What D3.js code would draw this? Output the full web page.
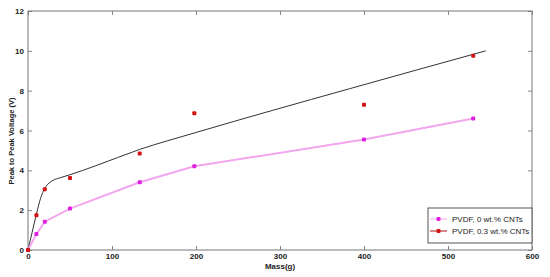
<html>
<head>
    <script src="https://d3js.org/d3.v7.min.js"></script>
</head>
<style>
    body { margin: 0; background: white; }
    .chart { font-family: "Liberation Sans", Arial, sans-serif; }
    .tick text { font-weight: bold; font-size: 8px; fill: #222; }
    .frame { fill: none; stroke: #777; stroke-width: 1px; }
</style>
<body>
    <svg id="chart" class="chart" width="550" height="277"></svg>
    <script>
        // measured data (mass in g, peak-to-peak voltage in V)
        const massPure = [0, 10, 20, 50, 133, 198, 400, 530];
        const voltPure = [0, 0.8, 1.42, 2.08, 3.4, 4.2, 5.55, 6.6];
        const massCnt = [0, 10, 20, 50, 133, 198, 400, 530];
        const voltCnt = [0, 1.75, 3.05, 3.62, 4.84, 6.87, 7.29, 9.75];
        // fitted curve for the CNT sample
        const fitMass = [0, 5, 10, 15, 20, 25, 30, 40, 50, 80, 133, 200, 383, 545];
        const fitVolt = [0, 0.9, 1.8, 2.6, 3.1, 3.36, 3.5, 3.65, 3.78, 4.22, 5.05, 5.9, 8.1, 10.0];
        const xTicks = [0, 100, 200, 300, 400, 500, 600];
        const yTicks = [0, 2, 4, 6, 8, 10, 12];
        const seriesNames = ["PVDF, 0 wt.% CNTs", "PVDF, 0.3 wt.% CNTs"];

        const svg = d3.select("svg#chart");
        const margin = { top: 11, right: 18, bottom: 27, left: 28 };
        const W = 550, H = 277;

        const x = d3.scaleLinear().domain([0, 600]).range([margin.left, W - margin.right]);
        const y = d3.scaleLinear().domain([0, 12]).range([H - margin.bottom, margin.top]);

        const pure = massPure.map((m, i) => ({ m: m, v: voltPure[i] }));
        const cnt = massCnt.map((m, i) => ({ m: m, v: voltCnt[i] }));
        const fit = fitMass.map((m, i) => ({ m: m, v: fitVolt[i] }));

        // axes, ticks pointing inward like matlab
        svg.append("g")
            .attr("transform", "translate(0," + y(0) + ")")
            .call(d3.axisBottom(x).tickValues(xTicks).tickSize(-4).tickPadding(3))
            .call(g => g.select(".domain").remove());
        svg.append("g")
            .attr("transform", "translate(" + x(0) + ",0)")
            .call(d3.axisLeft(y).tickValues(yTicks).tickSize(-4).tickPadding(4))
            .call(g => g.select(".domain").remove());
        svg.append("g")
            .attr("transform", "translate(0," + y(12) + ")")
            .call(d3.axisTop(x).tickValues(xTicks).tickSize(-4).tickFormat(""))
            .call(g => g.select(".domain").remove());
        svg.append("g")
            .attr("transform", "translate(" + x(600) + ",0)")
            .call(d3.axisRight(y).tickValues(yTicks).tickSize(-4).tickFormat(""))
            .call(g => g.select(".domain").remove());
        svg.selectAll(".tick line").attr("stroke", "#888");

        svg.append("rect").attr("class", "frame")
            .attr("x", x(0)).attr("y", y(12))
            .attr("width", x(600) - x(0)).attr("height", y(0) - y(12));

        // axis labels
        svg.append("text")
            .attr("x", (x(0) + x(600)) / 2).attr("y", 269)
            .attr("text-anchor", "middle")
            .style("font-size", "8px").style("font-weight", "bold").style("fill", "#222")
            .text("Mass(g)");
        svg.append("text")
            .attr("transform", "translate(14," + 141 + ") rotate(-90)")
            .attr("text-anchor", "middle")
            .style("font-size", "7.5px").style("font-weight", "bold").style("fill", "#222")
            .text("Peak to Peak Voltage (V)");

        const line = d3.line().x(d => x(d.m)).y(d => y(d.v));

        // fit line
        svg.append("path").datum(fit)
            .attr("fill", "none").attr("stroke", "#333").attr("stroke-width", 1)
            .attr("d", line.curve(d3.curveMonotoneX));

        // pure PVDF line
        svg.append("path").datum(pure)
            .attr("fill", "none").attr("stroke", "#f2a6ee").attr("stroke-width", 2)
            .attr("d", d3.line().x(d => x(d.m)).y(d => y(d.v)));

        svg.selectAll("rect.pure").data(pure).join("rect")
            .attr("class", "pure")
            .attr("x", d => x(d.m) - 2).attr("y", d => y(d.v) - 2)
            .attr("width", 4).attr("height", 4).attr("rx", 1)
            .attr("fill", "#e020e0");

        svg.selectAll("rect.cnt").data(cnt).join("rect")
            .attr("class", "cnt")
            .attr("x", d => x(d.m) - 2).attr("y", d => y(d.v) - 2)
            .attr("width", 4).attr("height", 4).attr("rx", 1)
            .attr("fill", "#d41414");

        // legend
        const lg = svg.append("g").attr("transform", "translate(428,208)");
        lg.append("rect")
            .attr("width", 104).attr("height", 35)
            .attr("fill", "white").attr("stroke", "#555").attr("stroke-width", 1);
        const lineColors = ["#f2a6ee", "#b01010"];
        const dotColors = ["#e020e0", "#d41414"];
        seriesNames.forEach((name, i) => {
            const yy = 11 + i * 12;
            lg.append("line")
                .attr("x1", 2).attr("x2", 19).attr("y1", yy).attr("y2", yy)
                .attr("stroke", lineColors[i]).attr("stroke-width", 1);
            lg.append("rect")
                .attr("x", 8.5).attr("y", yy - 2).attr("width", 4).attr("height", 4).attr("rx", 1)
                .attr("fill", dotColors[i]);
            lg.append("text")
                .attr("x", 24).attr("y", yy + 3)
                .style("font-size", "8px").style("fill", "#222")
                .text(name);
        });
    </script>
</body>
</html>
